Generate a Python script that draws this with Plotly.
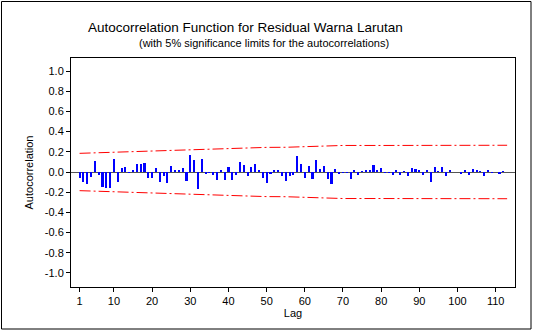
import plotly.graph_objects as go

lags = list(range(1, 113))
acf = [
    -0.06, -0.10, -0.12, -0.05, 0.11, -0.03, -0.15, -0.16, -0.16, 0.13,
    -0.10, 0.04, 0.045, -0.01, 0.02, 0.08, 0.08, 0.09, -0.06, -0.06,
    0.04, -0.10, -0.04, -0.11, 0.055, 0.02, 0.01, 0.04, -0.09, 0.17,
    0.12, -0.17, 0.13, -0.02, -0.01, -0.03, -0.08, 0.01, -0.08, 0.045,
    -0.08, -0.03, 0.10, 0.065, -0.04, 0.05, 0.08, 0.01, -0.06, -0.11,
    -0.02, 0.02, 0.02, -0.04, -0.09, -0.04, -0.03, 0.16, 0.08, -0.06,
    0.055, -0.07, 0.115, 0.03, 0.055, -0.065, -0.12, 0.03, -0.015, -0.01,
    -0.01, -0.065, 0.01, -0.03, 0.005, 0.015, 0.015, 0.065, 0.01, 0.04,
    -0.01, -0.01, -0.025, 0.015, -0.025, 0.005, -0.04, 0.04, 0.03, 0.02,
    -0.03, 0.01, -0.10, 0.05, 0.005, 0.05, -0.04, 0.015, 0.0, 0.0,
    -0.015, 0.02, -0.03, 0.03, 0.02, 0.005, -0.04, 0.015, -0.005, 0.0,
    -0.02, 0.005,
]

limit_lags = [1, 5, 10, 15, 20, 25, 30, 33, 40, 45, 50, 55, 58, 63, 67, 70, 80, 90, 100, 113]
upper_limit = [0.185, 0.19, 0.20, 0.205, 0.21, 0.215, 0.218, 0.228, 0.236, 0.242, 0.244,
               0.245, 0.25, 0.257, 0.262, 0.263, 0.263, 0.264, 0.264, 0.265]
lower_limit = [-v for v in upper_limit]

x_ticks = [1, 10, 20, 30, 40, 50, 60, 70, 80, 90, 100, 110]
y_ticks = [-1.0, -0.8, -0.6, -0.4, -0.2, 0.0, 0.2, 0.4, 0.6, 0.8, 1.0]

FONT = "Arial, Liberation Sans, sans-serif"

fig = go.Figure()
fig.add_trace(go.Bar(x=lags, y=acf, width=0.55, marker=dict(color="#0000FF", line=dict(width=0)),
                     showlegend=False))
for lim in (upper_limit, lower_limit):
    fig.add_trace(go.Scatter(x=limit_lags, y=lim, mode="lines",
                             line=dict(color="#FF0000", width=1, dash="11px,3px,2px,3px"),
                             showlegend=False))

W, H = 533, 331
L, R, T, B = 71, 18, 58, 44
pw, ph = W - L - R, H - T - B

def px_x(p):
    return (p - L) / pw

def px_y(p):
    return 1 - (p - T) / ph

fig.update_layout(
    width=W, height=H,
    margin=dict(l=L, r=R, t=T, b=B),
    paper_bgcolor="white", plot_bgcolor="white",
    font=dict(family=FONT, size=10, color="black"),
    bargap=0,
    xaxis=dict(range=[-1.25, 115.06], tickvals=x_ticks, ticktext=[str(v) for v in x_ticks],
               ticks="outside", ticklen=4, tickcolor="black", showgrid=False, zeroline=False,
               showline=True, linecolor="black", linewidth=1, mirror=True,
               title=dict(text="Lag", font=dict(size=11), standoff=2),
               tickfont=dict(size=11)),
    yaxis=dict(range=[-1.14, 1.13], tickvals=y_ticks, ticktext=[f"{v:.1f}" for v in y_ticks],
               ticks="outside", ticklen=4, tickcolor="black", showgrid=False,
               zeroline=True, zerolinecolor="#555555", zerolinewidth=1,
               showline=True, linecolor="black", linewidth=1, mirror=True,
               title=dict(text="Autocorrelation", font=dict(size=11), standoff=8),
               tickfont=dict(size=11)),
    annotations=[
        dict(text="Autocorrelation Function for Residual Warna Larutan", xref="paper", yref="paper",
             x=px_x(245), y=px_y(28), xanchor="center", yanchor="middle", showarrow=False,
             font=dict(size=13.5)),
        dict(text="(with 5% significance limits for the autocorrelations)", xref="paper", yref="paper",
             x=px_x(264), y=px_y(43), xanchor="center", yanchor="middle", showarrow=False,
             font=dict(size=11)),
    ],
    shapes=[
        dict(type="rect", xref="paper", yref="paper", x0=px_x(1.5), x1=px_x(531), y0=px_y(1.5), y1=px_y(329),
             line=dict(color="black", width=1)),
    ],
)

fig.write_html("out.html")
